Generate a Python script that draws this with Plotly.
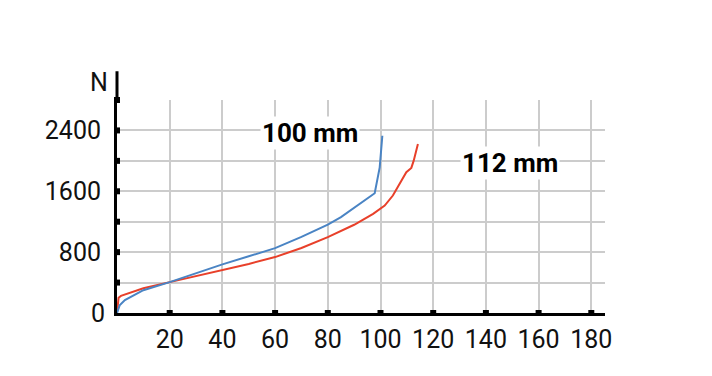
import plotly.graph_objects as go

# Data
blue_x = [0, 0.5, 1, 3, 6, 10, 20, 30, 40, 50, 60, 70, 80, 85, 90, 97.8, 99.7, 100.7]
blue_n = [0, 60, 100, 170, 230, 300, 406, 525, 639, 745, 853, 1000, 1163, 1260, 1380, 1574, 1915, 2330]
red_x = [0, 0.6, 1.5, 5, 10, 20, 30, 40, 50, 60, 70, 80, 90, 97.2, 101.6, 104.7, 107.3, 109.8, 111.7, 112.6, 114.2]
red_n = [0, 200, 225, 265, 325, 406, 485, 560, 645, 735, 855, 997, 1160, 1304, 1412, 1544, 1697, 1850, 1907, 2003, 2222]

x_ticks = [20, 40, 60, 80, 100, 120, 140, 160, 180]
y_ticks_all = [400, 800, 1200, 1600, 2000, 2400, 2800]
y_tick_labels = [0, 800, 1600, 2400]

FONT = "Liberation Sans Narrow, Roboto, sans-serif"
TS = 25

fig = go.Figure()
fig.add_trace(go.Scatter(x=red_x, y=red_n, mode="lines",
                         line=dict(color="#e8402a", width=2), showlegend=False))
fig.add_trace(go.Scatter(x=blue_x, y=blue_n, mode="lines",
                         line=dict(color="#4a84c4", width=2), showlegend=False))
# tick squares
fig.add_trace(go.Scatter(x=x_ticks, y=[0] * len(x_ticks), mode="markers",
                         marker=dict(symbol="square", size=6, color="black"),
                         cliponaxis=False, showlegend=False, hoverinfo="skip"))
fig.add_trace(go.Scatter(x=[0] * len(y_ticks_all), y=y_ticks_all, mode="markers",
                         marker=dict(symbol="square", size=6, color="black"),
                         cliponaxis=False, showlegend=False, hoverinfo="skip"))

fig.update_xaxes(range=[0, 185.2], tickvals=x_ticks, ticktext=[str(v) for v in x_ticks],
                 showgrid=True, gridcolor="#cccccc", gridwidth=1.5,
                 showline=True, linecolor="black", linewidth=3, zeroline=False,
                 ticks="", tickfont=dict(family=FONT, size=TS, color="#111"),
                 ticklabelstandoff=2, automargin=False)
fig.update_yaxes(range=[0, 2800], tickvals=y_ticks_all,
                 ticktext=[str(v) if v in y_tick_labels else "" for v in y_ticks_all],
                 showgrid=True, gridcolor="#cccccc", gridwidth=1.5,
                 showline=True, linecolor="black", linewidth=3, zeroline=False,
                 ticks="", tickfont=dict(family=FONT, size=TS, color="#111"),
                 ticklabelstandoff=8, automargin=False)
# y=0 label
fig.add_annotation(x=0, y=0, xref="x", yref="y", text="0", showarrow=False,
                   xanchor="right", yanchor="middle", xshift=-10,
                   font=dict(family=FONT, size=TS, color="#111"))

fig.add_shape(type="line", xref="paper", yref="paper", x0=0, x1=0, y0=1, y1=1.135,
              line=dict(color="black", width=3))
fig.add_annotation(x=-0.036, y=1.082, xref="paper", yref="paper", text="N",
                   xanchor="center", yanchor="middle",
                   showarrow=False, font=dict(family=FONT, size=TS, color="#111"))
fig.add_annotation(x=73.4, y=2361, text="<b>100 mm</b>", showarrow=False,
                   bgcolor="white", font=dict(family=FONT, size=26, color="black"))
fig.add_annotation(x=149, y=1967, text="<b>112 mm</b>", showarrow=False,
                   bgcolor="white", font=dict(family=FONT, size=26, color="black"))

fig.update_layout(width=712, height=376, margin=dict(l=109, r=115, t=92, b=71, autoexpand=False),
                  plot_bgcolor="white", paper_bgcolor="white")
fig.write_html("out.html")
